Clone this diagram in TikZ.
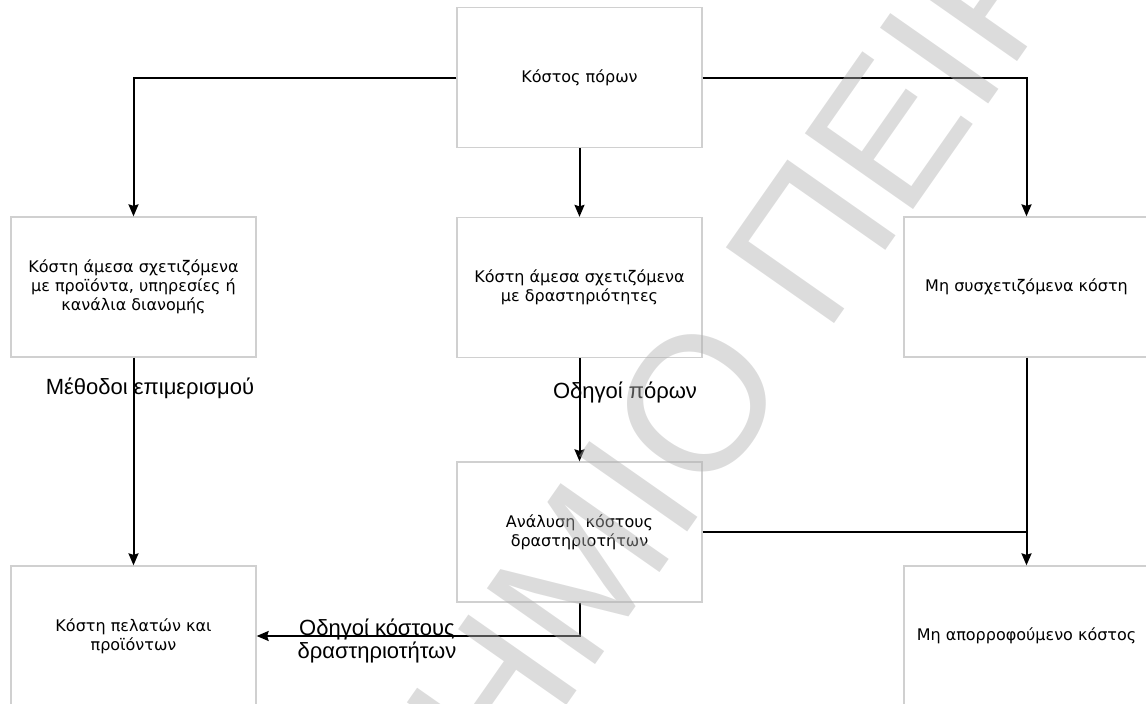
\documentclass[tikz,border=0pt]{standalone}
\usepackage{fontspec}
\setmainfont{Liberation Sans}
\newfontfamily\boxfont{DejaVu Sans}
\usetikzlibrary{arrows.meta}
\definecolor{boxgray}{HTML}{D0D0D0}
\definecolor{wmgray}{HTML}{B0B0B0}
\begin{document}
\begin{tikzpicture}[x=1pt,y=-1pt,
  box/.style={draw=boxgray, line width=1.3pt, minimum width=245pt, minimum height=140pt,
    inner sep=0pt, align=center, font=\boxfont\fontsize{16}{19}\selectfont},
  conn/.style={line width=2pt, draw=black},
  arr/.style={conn, -{Stealth[length=12pt,width=10pt,inset=1.5pt]}},
  lbl/.style={font=\fontsize{22}{23}\selectfont, align=center, inner sep=0pt},
  wm/.style={font=\fontsize{192}{192}\selectfont, text=wmgray, text opacity=0.44, rotate=55, inner sep=0pt}]
\useasboundingbox (0,0) rectangle (1146,704);
% boxes
\node[box] (top) at (579.5,77.5) {Κόστος πόρων};
\node[box] (left) at (133.5,287) {Κόστη άμεσα σχετιζόμενα\\με προϊόντα, υπηρεσίες ή\\κανάλια διανομής};
\node[box] (mid) at (579.5,287.5) {Κόστη άμεσα σχετιζόμενα\\με δραστηριότητες};
\node[box] (right) at (1026.5,287) {Μη συσχετιζόμενα κόστη};
\node[box] (ana) at (579.5,532) {Ανάλυση\ \ κόστους\\δραστηριοτήτων};
\node[box] (bl) at (133.5,636) {Κόστη πελατών και\\προϊόντων};
\node[box] (br) at (1026.5,636) {Μη απορροφούμενο κόστος};
% connectors
\draw[arr] (top.west) -| (left.north);
\draw[arr] (top.east) -| (right.north);
\draw[arr] (top.south) -- (mid.north);
\draw[arr] (mid.south) -- (ana.north);
\draw[arr] (left.south) -- (bl.north);
\draw[arr] (right.south) -- (br.north);
\draw[conn] (ana.east) -- (ana.east -| br.north);
\draw[arr] (ana.south) |- (bl.east);
% labels
\node[lbl, anchor=base] (l1) at (150,394) {Μέθοδοι επιμερισμού};
\node[lbl, anchor=base] (l2) at (625,398) {Οδηγοί πόρων};
\node[lbl] (l3) at (377,641) {Οδηγοί κόστους\\δραστηριοτήτων};
% watermark (on top, translucent)
\node[wm, anchor=base east] (wm1) at (794.4,380.4) {ΠΑΝΕΠΙΣΤΗΜΙΟ};
\node[wm, anchor=base west] (wm2) at (794.4,380.4) {\ ΠΕΙΡΑΙΩΣ};
\end{tikzpicture}
\end{document}
